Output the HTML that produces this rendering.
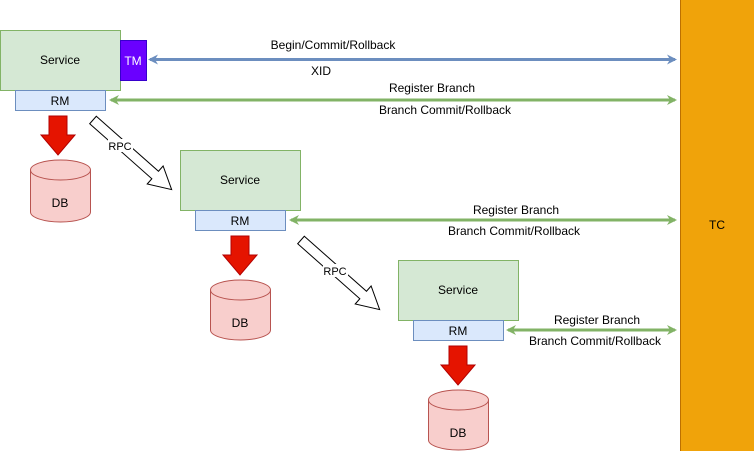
<!DOCTYPE html>
<html><head><meta charset="utf-8"><style>
html,body{margin:0;padding:0;background:#fff;}
svg{display:block;font-family:"Liberation Sans",Helvetica,Arial,sans-serif;}
</style></head><body>
<svg width="754" height="451" viewBox="0 0 754 451" xmlns="http://www.w3.org/2000/svg">
<defs>
<marker id="ab" markerWidth="10" markerHeight="10" refX="8" refY="5" orient="auto-start-reverse" markerUnits="userSpaceOnUse"><path d="M0,0 L10,5 L0,10 L3,5 Z" fill="#6c8ebf"/></marker>
<marker id="ag" markerWidth="10" markerHeight="10" refX="8" refY="5" orient="auto-start-reverse" markerUnits="userSpaceOnUse"><path d="M0,0 L10,5 L0,10 L3,5 Z" fill="#82b366"/></marker>
<g id="red"><path d="M-9,0 H9 V19 H17 L0,39 L-17,19 H-9 Z" fill="#e51400" stroke="#b20000" stroke-width="1"/></g>
<g id="rpc"><path d="M0,-5 H83 V-12 L105,0 L83,12 V5 H0 Z" fill="#fff" stroke="#000" stroke-width="1"/></g>
</defs>
<rect x="680.5" y="-1" width="74" height="453" fill="#f0a30a" stroke="#bd7000"/>
<text x="717" y="229" font-size="12" text-anchor="middle">TC</text>

<rect x="0.5" y="30.5" width="120" height="60" fill="#d5e8d4" stroke="#82b366"/>
<text x="60" y="64" font-size="12" text-anchor="middle">Service</text>
<rect x="120.5" y="40.5" width="26" height="40" fill="#6a00ff" stroke="#3700cc"/>
<text x="133" y="65" font-size="12" text-anchor="middle" fill="#fff">TM</text>
<rect x="15.5" y="90.5" width="90" height="20" fill="#dae8fc" stroke="#6c8ebf"/>
<text x="60" y="105" font-size="12" text-anchor="middle">RM</text>
<use href="#red" x="58" y="116"/>
<path d="M30.5,170 v42 a30,10 0 0 0 60,0 v-42" fill="#f8cecc" stroke="#b85450"/>
<ellipse cx="60.5" cy="170" rx="30" ry="10" fill="#f8cecc" stroke="#b85450"/>
<text x="60" y="207" font-size="12" text-anchor="middle">DB</text>
<use href="#rpc" transform="translate(93,120) rotate(41.5)"/>
<rect x="108" y="139" width="25" height="13" fill="#fff"/>
<text x="120" y="150" font-size="11" text-anchor="middle">RPC</text>

<rect x="180.5" y="150.5" width="120" height="60" fill="#d5e8d4" stroke="#82b366"/>
<text x="240" y="184" font-size="12" text-anchor="middle">Service</text>
<rect x="195.5" y="210.5" width="90" height="20" fill="#dae8fc" stroke="#6c8ebf"/>
<text x="240" y="225" font-size="12" text-anchor="middle">RM</text>
<use href="#red" x="240" y="236"/>
<path d="M210.5,290 v40 a30,10 0 0 0 60,0 v-40" fill="#f8cecc" stroke="#b85450"/>
<ellipse cx="240.5" cy="290" rx="30" ry="10" fill="#f8cecc" stroke="#b85450"/>
<text x="240" y="327" font-size="12" text-anchor="middle">DB</text>
<use href="#rpc" transform="translate(301,240) rotate(41.5)"/>
<rect x="323" y="264" width="25" height="13" fill="#fff"/>
<text x="335" y="275" font-size="11" text-anchor="middle">RPC</text>

<rect x="398.5" y="260.5" width="120" height="60" fill="#d5e8d4" stroke="#82b366"/>
<text x="458" y="294" font-size="12" text-anchor="middle">Service</text>
<rect x="413.5" y="320.5" width="90" height="20" fill="#dae8fc" stroke="#6c8ebf"/>
<text x="458" y="335" font-size="12" text-anchor="middle">RM</text>
<use href="#red" x="458" y="346"/>
<path d="M428.5,400 v40 a30,10 0 0 0 60,0 v-40" fill="#f8cecc" stroke="#b85450"/>
<ellipse cx="458.5" cy="400" rx="30" ry="10" fill="#f8cecc" stroke="#b85450"/>
<text x="458" y="437" font-size="12" text-anchor="middle">DB</text>

<line x1="150" y1="59.5" x2="675" y2="59.5" stroke="#6c8ebf" stroke-width="3" marker-start="url(#ab)" marker-end="url(#ab)"/>
<text x="333" y="49" font-size="12" text-anchor="middle">Begin/Commit/Rollback</text>
<text x="321" y="75" font-size="12" text-anchor="middle">XID</text>

<line x1="111" y1="100" x2="675" y2="100" stroke="#82b366" stroke-width="3" marker-start="url(#ag)" marker-end="url(#ag)"/>
<text x="432" y="92" font-size="12" text-anchor="middle">Register Branch</text>
<text x="445" y="114" font-size="12" text-anchor="middle">Branch Commit/Rollback</text>

<line x1="291" y1="220" x2="675" y2="220" stroke="#82b366" stroke-width="3" marker-start="url(#ag)" marker-end="url(#ag)"/>
<text x="516" y="214" font-size="12" text-anchor="middle">Register Branch</text>
<text x="514" y="235" font-size="12" text-anchor="middle">Branch Commit/Rollback</text>

<line x1="508" y1="330" x2="675" y2="330" stroke="#82b366" stroke-width="3" marker-start="url(#ag)" marker-end="url(#ag)"/>
<text x="597" y="324" font-size="12" text-anchor="middle">Register Branch</text>
<text x="595" y="345" font-size="12" text-anchor="middle">Branch Commit/Rollback</text>
</svg>
</body></html>
